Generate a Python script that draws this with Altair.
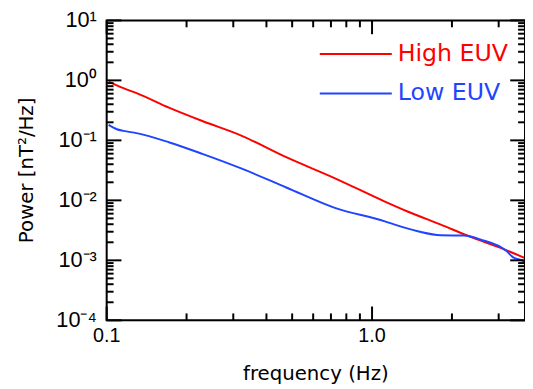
import altair as alt
import pandas as pd

# ---- data ----
freq_high = [0.1017, 0.1157, 0.1296, 0.1725, 0.2294, 0.3231, 0.4748, 0.7287, 1.118, 1.361, 1.816, 2.348, 3.035, 3.77]
pow_high = [0.955, 0.741, 0.614, 0.348, 0.210, 0.119, 0.0524, 0.0231, 0.00953, 0.00652, 0.00394, 0.00247, 0.00163, 0.00109]

freq_low = [0.1017, 0.1092, 0.1157, 0.1296, 0.1725, 0.2294, 0.3231, 0.4748, 0.7287, 1.118, 1.218, 1.486, 1.816, 2.217, 2.557, 3.212, 3.401, 3.706, 3.77]
pow_low = [0.181, 0.1535, 0.144, 0.132, 0.0923, 0.0596, 0.0337, 0.0164, 0.00741, 0.00447, 0.00393, 0.00306, 0.00262, 0.00259, 0.00223, 0.00143, 0.00112, 0.00098, 0.00090]

series_names = ["High EUV", "Low EUV"]
series_colors = ["#ff0000", "#1f45ff"]

x_domain = [0.1, 3.77]
y_domain = [1e-4, 10]
x_label_values = [0.1, 1.0]
x_tick_labels = ["0.1", "1.0"]
x_minor_values = [0.2, 0.3, 0.4, 0.5, 0.6, 0.7, 0.8, 0.9, 2.0, 3.0]
y_label_values = [1e-4, 1e-3, 1e-2, 1e-1, 1, 10]
y_tick_labels = ["10⁻⁴", "10⁻³", "10⁻²", "10⁻¹", "10⁰", "10¹"]
y_minor_values = [m * 10.0 ** e for e in range(-4, 1) for m in range(2, 10)]
x_title = "frequency (Hz)"
y_title = "Power [nT²/Hz]"

W, H = 424, 304
FONT = "Liberation Sans"
TITLE_FONT = "DejaVu Sans"

df = pd.concat([
    pd.DataFrame({"f": freq_high, "P": pow_high, "series": series_names[0]}),
    pd.DataFrame({"f": freq_low, "P": pow_low, "series": series_names[1]}),
])

xs = alt.Scale(type="log", domain=x_domain, nice=False)
ys = alt.Scale(type="log", domain=y_domain, nice=False)

lines = alt.Chart(df).mark_line(strokeWidth=2, interpolate="monotone", clip=True).encode(
    x=alt.X("f:Q", scale=xs, axis=None),
    y=alt.Y("P:Q", scale=ys, axis=None),
    color=alt.Color("series:N", scale=alt.Scale(domain=series_names, range=series_colors), legend=None),
    detail="series:N",
)

def xticks(values, length):
    d = pd.DataFrame({"v": values})
    base = alt.Chart(d).mark_rule(color="black", strokeWidth=2)
    bottom = base.encode(x=alt.X("v:Q", scale=xs, axis=None), y=alt.value(H), y2=alt.value(H - length))
    top = base.encode(x=alt.X("v:Q", scale=xs, axis=None), y=alt.value(0), y2=alt.value(length))
    return [bottom, top]

def yticks(values, length):
    d = pd.DataFrame({"v": values})
    base = alt.Chart(d).mark_rule(color="black", strokeWidth=2)
    left = base.encode(y=alt.Y("v:Q", scale=ys, axis=None), x=alt.value(0), x2=alt.value(length))
    right = base.encode(y=alt.Y("v:Q", scale=ys, axis=None), x=alt.value(W), x2=alt.value(W - length))
    return [left, right]

tick_layers = xticks(x_label_values, 14) + xticks(x_minor_values, 7) + yticks(y_label_values, 15) + yticks(y_minor_values, 7)

frame = alt.Chart(pd.DataFrame({"k": [0]})).mark_rect(
    fill="transparent", stroke="black", strokeWidth=2).encode(
    x=alt.value(0), x2=alt.value(W), y=alt.value(0), y2=alt.value(H))

# tick labels and axis titles as text marks
xlab = alt.Chart(pd.DataFrame({"v": x_label_values, "t": x_tick_labels})).mark_text(
    font=FONT, fontSize=20, color="black", align="center", baseline="top").encode(
    x=alt.X("v:Q", scale=xs, axis=None), y=alt.value(H + 6), text="t:N")
ylab = alt.Chart(pd.DataFrame({"v": y_label_values, "t": y_tick_labels})).mark_text(
    font=FONT, fontSize=22, color="black", align="right", baseline="middle").encode(
    y=alt.Y("v:Q", scale=ys, axis=None), x=alt.value(-10), text="t:N")
xtit = alt.Chart(pd.DataFrame({"t": [x_title]})).mark_text(
    font=TITLE_FONT, fontSize=20, color="black", align="center", baseline="alphabetic").encode(
    x=alt.value(W / 2), y=alt.value(H + 60), text="t:N")
ytit = alt.Chart(pd.DataFrame({"t": [y_title]})).mark_text(
    font=TITLE_FONT, fontSize=20, color="black", align="center", baseline="middle", angle=270).encode(
    x=alt.value(-81), y=alt.value(H / 2), text="t:N")

# legend (drawn manually, layout only)
legend_layers = []
for name, color, yy in zip(series_names, series_colors, [34, 74]):
    ld = pd.DataFrame({"series": [name]})
    legend_layers.append(alt.Chart(ld).mark_rule(color=color, strokeWidth=2).encode(
        x=alt.value(216), x2=alt.value(289), y=alt.value(yy)))
    legend_layers.append(alt.Chart(ld).mark_text(color=color, font="DejaVu Sans", fontSize=24,
                                                 align="left", baseline="middle").encode(
        x=alt.value(295), y=alt.value(yy), text="series:N"))

chart = alt.layer(lines, *tick_layers, frame, xlab, ylab, xtit, ytit, *legend_layers).properties(
    width=W, height=H,
    autosize=alt.AutoSizeParams(type="none"),
    padding={"left": 100, "top": 10, "right": 0, "bottom": 64},
).configure_view(stroke="black", strokeWidth=2).configure(background="white")

chart.save("out.html", embed_options={"renderer": "svg", "actions": False})
